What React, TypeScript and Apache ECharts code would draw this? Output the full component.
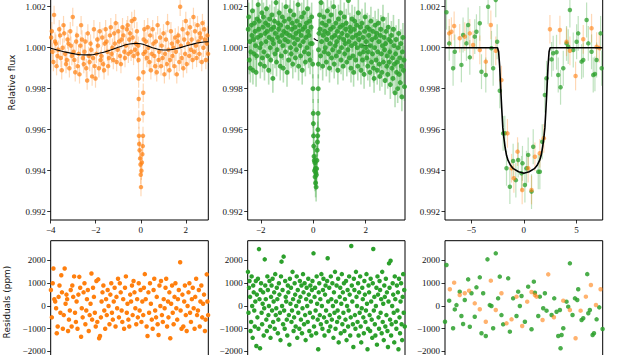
import React, { useEffect, useRef } from "react";
import * as echarts from "echarts";

// ---------- DATA ----------
// Left (orange) light curve: time (d) and relative-flux offset (ppm)
const leftFluxPpm: number[][] = [
  [-3.98,500],[-3.95,800],[-3.92,-200],[-3.88,-700],[-3.85,1600],[-3.81,300],[-3.77,200],[-3.74,-900],[-3.70,-400],[-3.66,-100],
  [-3.62,900],[-3.58,600],[-3.55,-500],[-3.51,-1100],[-3.47,0],[-3.43,1100],[-3.40,700],[-3.36,-300],[-3.32,-800],[-3.28,-600],
  [-3.25,400],[-3.21,200],[-3.17,-1000],[-3.13,800],[-3.10,100],[-3.06,-400],[-3.02,1500],[-2.98,-200],[-2.95,-600],[-2.91,-1200],
  [-2.87,300],[-2.83,600],[-2.80,-900],[-2.76,-300],[-2.72,-1300],[-2.68,100],[-2.65,1100],[-2.61,400],[-2.57,-500],[-2.53,-800],
  [-2.50,-200],[-2.46,300],[-2.42,-1000],[-2.38,-1600],[-2.35,700],[-2.31,-400],[-2.27,-700],[-2.23,200],[-2.20,-100],[-2.16,-1400],
  [-2.12,-500],[-2.08,900],[-2.05,-900],[-2.01,-1500],[-1.97,-300],[-1.93,400],[-1.90,100],[-1.86,-1000],[-1.82,800],[-1.78,-600],
  [-1.75,-400],[-1.71,500],[-1.67,-800],[-1.63,-1100],[-1.60,200],[-1.56,900],[-1.52,300],[-1.48,-200],[-1.45,-900],[-1.41,-500],
  [-1.37,600],[-1.33,1000],[-1.30,-300],[-1.26,0],[-1.22,-600],[-1.18,700],[-1.15,200],[-1.11,1200],[-1.07,-700],[-1.03,-100],
  [-1.00,800],[-0.96,300],[-0.92,-400],[-0.88,-800],[-0.85,400],[-0.81,1000],[-0.77,600],[-0.73,-200],[-0.70,-500],[-0.66,100],
  [-0.62,900],[-0.58,1100],[-0.55,-300],[-0.51,400],[-0.47,700],[-0.43,-200],[-0.40,1300],[-0.36,500],[-0.32,-400],[-0.28,1400],
  [-0.25,-100],[-0.21,200],[-0.17,800],[-0.14,-300],
  [-0.11,100],[-0.10,-600],[-0.095,-1500],[-0.09,-2500],[-0.085,-3500],[-0.08,-4300],[-0.07,-4700],[-0.05,-5000],[-0.03,-5400],
  [-0.01,-5700],[0.00,-6200],[0.01,-6800],[0.03,-6000],[0.05,-5600],[0.07,-5200],[0.09,-4800],[0.10,-4300],[0.105,-3200],
  [0.11,-2200],[0.115,-1200],[0.12,-300],[0.13,400],
  [0.16,900],[0.20,-200],[0.23,300],[0.27,-500],[0.31,1000],[0.34,0],[0.38,-700],[0.42,600],[0.45,-1100],[0.49,-300],
  [0.53,900],[0.56,200],[0.60,-400],[0.64,-900],[0.67,300],[0.71,-1200],[0.75,1100],[0.79,-600],[0.82,-200],[0.86,500],
  [0.90,-900],[0.93,100],[0.97,-500],[1.01,700],[1.05,-1300],[1.08,-300],[1.12,400],[1.16,-800],[1.19,1200],[1.23,-100],
  [1.27,-1100],[1.30,-600],[1.34,800],[1.38,200],[1.41,-400],[1.45,0],[1.49,-900],[1.53,500],[1.56,-200],[1.60,-1300],
  [1.64,300],[1.67,600],[1.71,-700],[1.75,2000],[1.78,100],[1.82,-500],[1.86,900],[1.89,-1000],[1.93,400],[1.97,-300],
  [2.00,1300],[2.04,-800],[2.08,700],[2.11,200],[2.15,-400],[2.19,1000],[2.23,-100],[2.26,400],[2.30,-600],[2.34,1500],
  [2.37,-200],[2.41,800],[2.45,100],[2.48,-500],[2.52,1100],[2.56,300],[2.60,-300],[2.63,700],[2.67,500],[2.71,-700],
  [2.74,1200],[2.78,0],[2.82,900],[2.85,400],[2.89,-600],[2.93,200],[2.96,600],[2.99,-300]
];

const leftModelPpm: number[][] = [
  [-4,-30],[-3.5,-170],[-3,-290],[-2.5,-350],[-2.2,-350],[-2,-310],[-1.5,-170],[-1,20],[-0.5,180],[-0.2,210],
  [0,190],[0.3,90],[0.6,-30],[1,-110],[1.3,-100],[1.6,-40],[2,80],[2.4,200],[2.8,280],[3,290]
];

// Middle (green) light curve
const midPreX: number[] = [
  -2.48,-2.46,-2.44,-2.42,-2.40,-2.38,-2.36,-2.34,-2.32,-2.30,-2.28,-2.26,-2.24,-2.22,-2.20,-2.18,-2.16,-2.14,-2.12,-2.10,
  -2.08,-2.06,-2.04,-2.02,-2.00,-1.98,-1.96,-1.94,-1.92,-1.90,-1.88,-1.86,-1.84,-1.82,-1.80,-1.78,-1.76,-1.74,-1.72,-1.70,
  -1.68,-1.66,-1.64,-1.62,-1.60,-1.58,-1.56,-1.54,-1.52,-1.50,-1.48,-1.46,-1.44,-1.42,-1.40,-1.38,-1.36,-1.34,-1.32,-1.30,
  -1.28,-1.26,-1.24,-1.22,-1.20,-1.18,-1.16,-1.14,-1.12,-1.10,-1.08,-1.06,-1.04,-1.02,-1.00,-0.98,-0.96,-0.94,-0.92,-0.90,
  -0.88,-0.86,-0.84,-0.82,-0.80,-0.78,-0.76,-0.74,-0.72,-0.70,-0.68,-0.66,-0.64,-0.62,-0.60,-0.58,-0.56,-0.54,-0.52,-0.50,
  -0.48,-0.46,-0.44,-0.42,-0.40,-0.38,-0.36,-0.34,-0.32,-0.30,-0.28,-0.26,-0.24,-0.22,-0.20,-0.18,-0.16,-0.14,-0.12,-0.10,
  -0.08,-0.06
];
const midPrePpm: number[] = [
  900,1500,-600,300,-1000,-200,1100,600,1800,-1100,400,-300,1200,800,100,-1200,-400,1400,500,2100,
  900,1300,0,-800,600,200,1700,-500,1000,1500,-200,-900,700,1200,300,1900,800,-400,1100,-1100,
  500,1400,0,-600,900,1600,400,-1500,200,1000,1300,-300,700,2200,-700,-100,500,1200,900,1700,
  300,-900,1100,-400,600,1500,100,-1000,800,1300,400,-200,2000,700,-1200,1000,300,-600,1400,600,
  1800,0,-300,900,1200,-800,500,1600,200,1000,-500,700,-100,1300,400,2100,-900,800,1100,100,
  -400,600,1500,-1100,900,300,1700,-200,1000,-700,500,1200,0,1900,800,-300,600,1300,-600,200,
  1000,1500
];
const midTransitPpm: number[][] = [
  [-0.04,200],[-0.02,-800],[-0.01,-2000],[0.00,-3200],[0.005,-3700],[0.01,-4300],[0.02,-4800],[0.03,-5300],[0.04,-5500],[0.05,-6000],
  [0.06,-5600],[0.07,-6300],[0.08,-5900],[0.09,-6600],[0.10,-6100],[0.11,-6800],[0.12,-6200],[0.13,-5900],[0.14,-5500],[0.15,-5000],
  [0.16,-4600],[0.17,-4300],[0.18,-4000],[0.185,-3200],[0.19,-2000],[0.195,-800],[0.20,-100],[0.22,700]
];
const midPostX: number[] = [
  0.24,0.26,0.28,0.30,0.32,0.34,0.36,0.38,0.40,0.42,0.44,0.46,0.48,0.50,0.52,0.54,0.56,0.58,0.60,0.62,
  0.64,0.66,0.68,0.70,0.72,0.74,0.76,0.78,0.80,0.82,0.84,0.86,0.88,0.90,0.92,0.94,0.96,0.98,1.00,1.02,
  1.04,1.06,1.08,1.10,1.12,1.14,1.16,1.18,1.20,1.22,1.24,1.26,1.28,1.30,1.32,1.34,1.36,1.38,1.40,1.42,
  1.44,1.46,1.48,1.50,1.52,1.54,1.56,1.58,1.60,1.62,1.64,1.66,1.68,1.70,1.72,1.74,1.76,1.78,1.80,1.82,
  1.84,1.86,1.88,1.90,1.92,1.94,1.96,1.98,2.00,2.02,2.04,2.06,2.08,2.10,2.12,2.14,2.16,2.18,2.20,2.22,
  2.24,2.26,2.28,2.30,2.32,2.34,2.36,2.38,2.40,2.42,2.44,2.46,2.48,2.50,2.52,2.54,2.56,2.58,2.60,2.62,
  2.64,2.66,2.68,2.70,2.72,2.74,2.76,2.78,2.80,2.82,2.84,2.86,2.88,2.90,2.92,2.94,2.96,2.98,3.00,3.02,
  3.04,3.06,3.08,3.10,3.12,3.14,3.16,3.18,3.20,3.22,3.24,3.26,3.28,3.30,3.32,3.34,3.36,3.38,3.40,3.42,
  3.44,3.46,3.48
];
const midPostPpm: number[] = [
  1600,900,-400,2200,300,1200,-900,600,1500,-200,800,0,1100,-700,400,1800,700,-300,1300,-1000,
  200,900,1600,-500,500,-100,1000,2000,-800,600,100,1200,-400,300,800,-1100,1400,-200,500,1000,
  1700,-600,0,700,1100,-900,400,1500,-300,200,900,1200,-700,600,-100,2300,300,-500,1000,800,
  -1000,100,1400,500,-400,-1200,900,1300,200,-600,600,1100,0,-900,1700,400,700,-300,1000,-1100,
  100,1200,-600,500,-200,-1300,800,1500,0,300,-500,1000,-900,-200,600,900,-1200,100,1300,-700,
  400,-300,800,-1000,-1500,0,1100,500,-600,700,-1100,-200,1200,300,-800,-1400,600,900,-300,-1200,
  100,1400,-700,500,-100,-1600,200,800,-900,-400,-1300,1000,400,-700,-200,-1800,300,600,-1000,-500,
  -1500,900,100,-800,-2200,-300,400,-1200,-700,-2000,0,700,-1300,-500,-1700,200,-900,-2400,-200,500,
  -1100,-600,-1900
];

// visible pieces of the (mostly hidden) model in the middle panel
const midModelPpm: number[][] = [[0.02,450],[0.1,380],[0.18,340]];
const midModelPpm2: number[][] = [[1.85,120],[2.2,80]];

// Right (phase-folded) panel
const rightGreenPpm: number[][] = [
  [-7.36,1730],[-7.1,210],[-6.73,-1000],[-6.57,-200],[-5.94,-840],[-5.78,620],[-5.46,210],[-5.30,1110],[-5.14,-470],[-4.67,540],
  [-4.51,780],[-4.19,1190],[-4.03,-1170],[-3.62,-1330],[-3.40,2000],[-3.08,-30],[-2.92,-1000],[-2.67,2330],[-2.54,290],[-2.29,-2100],
  [-1.97,-4180],[-1.81,-4170],[-1.65,-5880],[-1.33,-6780],[-1.02,-5530],[-0.76,-6460],[-0.54,-5480],[-0.22,-6130],[-0.13,-5640],[0.10,-6700],
  [0.25,-5880],[0.41,-5230],[0.73,-7020],[0.89,-4830],[1.37,-6050],[1.52,-6050],[1.75,-4590],[2.0,-2310],[2.16,-1490],[2.64,-570],
  [2.79,-270],[3.11,-220],[3.27,-1330],[3.49,-1930],[3.75,-1000],[4.06,210],[4.22,50],[4.38,1840],[4.70,-110],[5.02,290],
  [5.17,700],[5.49,-680],[5.65,-600],[5.97,1350],[6.13,210],[6.44,-200],[6.60,-1330],[6.76,-1280],[6.92,-600],[7.30,700],[7.40,-1000]
];
const rightOrangePpm: number[][] = [
  [-7.1,700],[-6.89,780],[-6.63,1060],[-6.1,460],[-5.62,540],[-5.14,700],[-4.83,130],[-4.19,-110],[-3.62,-680],[-3.14,1110],
  [-2.67,-150],[-2.13,-1580],[-1.56,-4180],[-1.17,-5880],[-0.95,-6370],[-0.6,-5070],[-0.16,-6940],[0.41,-5880],[0.73,-6940],[1.05,-5320],
  [1.52,-5150],[1.90,-4420],[2.48,900],[3.43,860],[4.06,290],[4.38,-150],[4.92,-1380],[5.65,410],[6.44,950],[6.92,50],[7.17,-20]
];
const rightModelPpm: number[][] = [
  [-7.5,0],[-2.5,0],[-2.4,-200],[-2.3,-900],[-2.2,-2000],[-2.1,-3000],[-2.0,-3900],[-1.9,-4400],[-1.8,-4800],[-1.65,-5250],
  [-1.5,-5500],[-1.25,-5750],[-1.0,-5900],[-0.5,-6050],[0,-6120],[0.5,-6050],[1.0,-5900],[1.25,-5750],[1.5,-5500],[1.65,-5250],
  [1.8,-4800],[1.9,-4400],[2.0,-3900],[2.1,-3000],[2.2,-2000],[2.3,-900],[2.4,-200],[2.5,0],[7.5,0]
];

// Residuals (ppm)
const leftResidX: number[] = [
  -3.99,-3.95,-3.91,-3.88,-3.84,-3.80,-3.76,-3.73,-3.69,-3.65,-3.61,-3.57,-3.53,-3.50,-3.46,-3.42,-3.38,-3.34,-3.30,-3.27,
  -3.23,-3.19,-3.15,-3.11,-3.07,-3.04,-3.00,-2.96,-2.92,-2.88,-2.85,-2.81,-2.77,-2.73,-2.69,-2.65,-2.62,-2.58,-2.54,-2.50,
  -2.46,-2.42,-2.39,-2.35,-2.31,-2.27,-2.23,-2.19,-2.16,-2.12,-2.08,-2.04,-2.00,-1.97,-1.93,-1.89,-1.85,-1.81,-1.77,-1.74,
  -1.70,-1.66,-1.62,-1.58,-1.54,-1.51,-1.47,-1.43,-1.39,-1.35,-1.31,-1.28,-1.24,-1.20,-1.16,-1.12,-1.08,-1.05,-1.01,-0.97,
  -0.93,-0.89,-0.85,-0.82,-0.78,-0.74,-0.70,-0.66,-0.62,-0.59,-0.55,-0.51,-0.47,-0.43,-0.39,-0.36,-0.32,-0.28,-0.24,-0.20,
  -0.16,-0.13,-0.09,-0.05,-0.01,0.03,0.07,0.11,0.14,0.18,0.22,0.26,0.30,0.34,0.37,0.41,0.45,0.49,0.53,0.57,
  0.60,0.64,0.68,0.71,0.75,0.79,0.83,0.87,0.90,0.94,0.98,1.02,1.06,1.10,1.13,1.17,1.21,1.23,1.27,1.31,
  1.35,1.39,1.42,1.46,1.50,1.54,1.58,1.62,1.65,1.69,1.75,1.77,1.81,1.85,1.89,1.93,1.96,2.00,2.04,2.08,
  2.12,2.16,2.19,2.23,2.27,2.31,2.35,2.39,2.42,2.46,2.50,2.54,2.58,2.62,2.65,2.69,2.73,2.77,2.81,2.85,
  2.88,2.93,2.96,2.99
];
const leftResidPpm: number[] = [
  700,-500,1000,1650,300,200,-100,-1200,-900,400,900,-300,1350,600,-1000,-400,1650,100,500,300,
  -1100,-600,-200,700,-900,900,400,1300,-300,-700,200,-1000,500,1280,800,-1350,-100,-500,600,1000,
  -800,-200,300,700,-1100,-400,100,1430,-600,800,400,-300,-900,1100,-700,1170,-1420,-1320,-500,200,
  600,900,-200,-1000,300,-400,700,0,-800,500,1000,-300,-600,200,800,-900,400,-100,1200,-500,
  1000,600,-200,-700,300,-1000,800,1300,-300,100,-600,-900,500,200,900,-400,1100,600,-100,-800,
  300,-500,1000,-200,700,-700,200,-400,800,1400,300,-900,-1320,600,-300,1000,100,-600,-1000,700,
  1200,-200,-500,400,-800,-1275,900,0,1100,-400,-700,300,-100,800,1200,-900,200,-500,600,-1420,
  100,900,-300,-800,400,1000,-100,-600,300,700,1920,-200,-1000,500,-900,200,900,-400,-1100,0,
  600,1000,-300,-700,300,800,-100,-1000,400,1200,-400,-200,700,-900,200,900,-500,100,500,-1100,
  -600,1390,200,-400
];

const midResidX: number[] = [
  -2.49,-2.47,-2.45,-2.43,-2.41,-2.39,-2.37,-2.35,-2.33,-2.31,-2.29,-2.27,-2.25,-2.23,-2.21,-2.19,-2.17,-2.15,-2.13,-2.11,
  -2.09,-2.07,-2.05,-2.03,-2.01,-1.99,-1.97,-1.95,-1.93,-1.91,-1.89,-1.87,-1.85,-1.83,-1.81,-1.79,-1.77,-1.75,-1.73,-1.71,
  -1.69,-1.67,-1.65,-1.63,-1.61,-1.59,-1.57,-1.55,-1.53,-1.51,-1.49,-1.47,-1.45,-1.43,-1.41,-1.39,-1.37,-1.35,-1.33,-1.31,
  -1.29,-1.27,-1.25,-1.23,-1.21,-1.19,-1.17,-1.15,-1.13,-1.11,-1.09,-1.07,-1.05,-1.03,-1.01,-0.99,-0.97,-0.95,-0.93,-0.91,
  -0.89,-0.87,-0.85,-0.83,-0.81,-0.79,-0.77,-0.75,-0.73,-0.71,-0.69,-0.67,-0.65,-0.63,-0.61,-0.59,-0.57,-0.55,-0.53,-0.51,
  -0.49,-0.47,-0.45,-0.43,-0.41,-0.39,-0.37,-0.35,-0.33,-0.31,-0.29,-0.27,-0.25,-0.23,-0.21,-0.19,-0.17,-0.15,-0.13,-0.11,
  -0.09,-0.07,-0.05,-0.03,-0.01,0.01,0.03,0.05,0.07,0.09,0.11,0.13,0.15,0.17,0.19,0.21,0.23,0.25,0.27,0.29,
  0.31,0.33,0.35,0.37,0.39,0.41,0.43,0.45,0.47,0.49,0.51,0.53,0.55,0.57,0.59,0.61,0.63,0.65,0.67,0.69,
  0.71,0.73,0.75,0.77,0.79,0.81,0.83,0.85,0.87,0.89,0.91,0.93,0.95,0.97,0.99,1.01,1.03,1.05,1.07,1.09,
  1.11,1.13,1.15,1.17,1.19,1.21,1.23,1.25,1.27,1.29,1.31,1.33,1.35,1.37,1.39,1.41,1.43,1.45,1.47,1.49,
  1.51,1.53,1.55,1.57,1.59,1.61,1.63,1.65,1.67,1.69,1.71,1.73,1.75,1.77,1.79,1.81,1.83,1.85,1.87,1.89,
  1.91,1.93,1.95,1.97,1.99,2.01,2.03,2.05,2.07,2.09,2.11,2.13,2.15,2.17,2.19,2.21,2.23,2.25,2.27,2.29,
  2.31,2.33,2.35,2.37,2.39,2.41,2.43,2.45,2.47,2.49,2.51,2.53,2.55,2.57,2.59,2.61,2.63,2.65,2.67,2.69,
  2.71,2.73,2.75,2.77,2.79,2.81,2.83,2.85,2.87,2.89,2.91,2.93,2.95,2.97,2.99,3.01,3.03,3.05,3.07,3.09,
  3.11,3.13,3.15,3.17,3.19,3.21,3.23,3.25,3.27,3.29,3.31,3.33,3.35,3.37,3.39,3.41,3.43,3.45,3.47,3.49
];
const midResidPpm: number[] = [
  1500,-300,800,1100,400,-1100,-700,1300,0,-1400,900,600,-200,-900,200,1100,-1760,500,-500,1200,
  -1000,2500,300,-1860,700,1000,-300,-800,100,600,-1300,-100,2050,900,300,-600,-1100,1300,700,-400,
  0,1100,-900,-1400,400,900,-200,1200,-700,200,600,-1000,1400,-400,-100,800,300,-1200,-600,1000,
  500,-300,-1500,1300,1950,0,700,-800,2170,-200,-1000,1100,400,200,-600,-1300,900,600,-400,-1700,
  1200,100,800,-700,-200,1500,300,-1100,-500,1000,500,-900,0,1300,-1400,700,-300,200,-1000,1100,
  400,-600,900,-1200,-100,1400,600,-800,1000,-400,-1500,300,800,0,-700,1200,500,-1100,-300,900,
  200,-1300,700,1100,-500,2315,-900,400,800,-200,-1200,1300,100,-600,-1900,600,1000,-400,300,-800,
  1400,0,-1000,700,1200,-500,-1300,500,900,-200,-700,1100,2100,200,-1100,800,-400,-900,1300,300,
  -600,1000,0,-1400,600,-300,1500,-1000,200,900,-700,-200,1200,-1600,-500,400,800,-1200,100,1400,
  -800,600,-300,1000,-1100,300,-600,1100,-1500,0,700,-900,-200,1300,500,-1300,-500,2640,900,200,
  -800,-1800,1200,700,-400,-1000,1500,400,0,-700,1000,-1300,600,-300,1300,-900,-1600,-100,800,300,
  -500,-1200,1100,500,-700,-200,1400,100,-1900,-1000,900,600,-400,-1100,1200,200,-600,-1400,1000,2505,
  -200,400,-800,-1300,0,800,-1700,1300,500,-500,-1000,1100,700,-300,300,-1200,1500,-700,100,-1500,
  900,400,-900,1200,-400,600,-1100,-1800,200,1875,800,-600,1990,-1300,-800,0,1000,500,-300,-1600,
  1300,300,-700,-1000,900,-200,600,-1900,1200,-500,-1200,200,1000,-800,-1500,400,1400,-300,700,-900
];

const rightGreenResid: number[][] = [
  [-7.5,-690],[-7.36,1800],[-7.1,234],[-6.73,-980],[-6.57,-150],[-6.41,40],[-6.1,630],[-5.94,-440],[-5.78,-790],[-5.62,264],
  [-5.30,1170],[-5.14,-910],[-4.98,557],[-4.67,-470],[-4.51,820],[-4.19,1260],[-4.03,-1200],[-3.87,557],[-3.62,-1320],[-3.46,2050],
  [-3.24,40],[-3.08,0],[-2.92,-980],[-2.67,2315],[-2.45,337],[-2.29,1290],[-2.13,-400],[-1.97,-806],[-1.49,1216],[-1.33,-1128],
  [-1.02,337],[-0.70,-440],[-0.54,630],[-0.38,0],[-0.22,440],[0.10,-690],[0.41,850],[0.73,-1025],[0.95,1070],[1.05,586],
  [1.37,-440],[1.52,410],[1.84,-100],[2.0,557],[2.16,-205],[2.64,-396],[2.89,337],[3.11,-250],[3.27,-1320],[3.43,-176],
  [3.59,-1275],[3.49,-1860],[3.75,-980],[4.06,190],[4.22,-30],[4.38,1875],[4.63,-396],[4.86,337],[5.08,264],[5.17,733],
  [5.49,-615],[5.65,-542],[6.03,1400],[6.13,-322],[6.28,-176],[6.54,-1275],[6.67,-1200],[6.92,-586],[7.17,-60],[7.49,-1010]
];
const rightOrangeResid: number[][] = [
  [-7.04,733],[-6.63,1026],[-6.1,483],[-5.62,557],[-5.21,674],[-4.67,117],[-4.19,-146],[-3.62,-690],[-3.14,1113],[-2.67,-176],
  [-2.13,557],[-1.65,-762],[-1.17,-586],[-0.70,410],[-0.16,-880],[0.32,190],[0.73,615],[1.05,483],[1.21,410],[1.78,-615],
  [2.32,1390],[2.86,-498],[3.75,234],[4.38,-176],[4.92,-1420],[5.4,-205],[5.9,410],[6.38,923],[6.86,44],[7.3,733]
];

const xTicksLeft = [-4, -2, 0, 2];
const xTicksMid = [-2, 0, 2];
const xTicksRight = [-5, 0, 5];
const fluxTicks = [0.992, 0.994, 0.996, 0.998, 1.0, 1.002];
const residTicks = [-2000, -1000, 0, 1000, 2000];

// error bar half-lengths (ppm)
const errLeft = 450;
const errMid = 700;
const errRightGreen = 850;
const errRightOrange = 700;

const ORANGE = "#ff7f0e";
const GREEN = "#2ca02c";
const SERIF = "'Liberation Serif', 'DejaVu Serif', serif";
const SANS = "'DejaVu Sans', sans-serif";

const zip = (xs: number[], ys: number[]) => xs.map((x, i) => [x, ys[i]]);
const toFlux = (rows: number[][]) => rows.map((r) => [r[0], 1 + r[1] / 1e6]);
const minus = (v: number) => (v < 0 ? "\u2212" + String(Math.abs(v)) : String(v));

export default function App() {
  const ref = useRef<HTMLDivElement>(null);
  useEffect(() => {
    if (!ref.current) return;
    const chart = echarts.init(ref.current, undefined, { renderer: "svg" });

    const midFluxPpm = [...zip(midPreX, midPrePpm), ...midTransitPpm, ...zip(midPostX, midPostPpm)];
    const leftResid = zip(leftResidX, leftResidPpm);
    const midResid = zip(midResidX, midResidPpm);

    const topTop = -55;
    const topH = 275;
    const botTop = 240.7;
    const botH = 122.6;
    const cols = [
      { left: 50.7, width: 157.6 },
      { left: 247.7, width: 157.3 },
      { left: 445, width: 157.7 },
    ];
    const grids: any[] = [];
    cols.forEach((c) =>
      grids.push({ left: c.left, width: c.width, top: topTop, height: topH, show: true, borderColor: "#000", borderWidth: 1, backgroundColor: "transparent", outerBoundsMode: "none", containLabel: false })
    );
    cols.forEach((c) =>
      grids.push({ left: c.left, width: c.width, top: botTop, height: botH, show: true, borderColor: "#000", borderWidth: 1, backgroundColor: "transparent", outerBoundsMode: "none", containLabel: false })
    );

    const tickFont = { fontFamily: SERIF, fontSize: 9, color: "#111" };
    const xr = [
      [-4, 3, xTicksLeft],
      [-2.5, 3.5, xTicksMid],
      [-7.5, 7.5, xTicksRight],
    ] as any[];

    const xAxes: any[] = [];
    xr.forEach((r, i) =>
      xAxes.push({
        type: "value", gridIndex: i, min: r[0], max: r[1], position: "bottom",
        axisLine: { show: false, onZero: false },
        axisTick: { show: true, inside: false, length: 3.5, lineStyle: { color: "#000", width: 0.8 }, customValues: r[2] },
        axisLabel: { show: true, margin: 5, ...tickFont, customValues: r[2], formatter: (v: number) => minus(v) },
        splitLine: { show: false },
      })
    );
    xr.forEach((r, i) =>
      xAxes.push({ type: "value", gridIndex: i + 3, min: r[0], max: r[1], show: false, axisLine: { onZero: false }, splitLine: { show: false } })
    );

    const yAxes: any[] = [];
    for (let i = 0; i < 3; i++) {
      yAxes.push({
        type: "value", gridIndex: i, min: 0.991595, max: 1.00501, position: "left",
        name: i === 0 ? "Relative flux" : "", nameLocation: "middle", nameGap: 34, nameRotate: 90,
        nameTextStyle: { fontFamily: SANS, fontSize: 9, color: "#111" },
        axisLine: { show: false, onZero: false },
        axisTick: { show: true, length: 3.5, lineStyle: { color: "#000", width: 0.8 }, customValues: fluxTicks },
        axisLabel: { margin: 5, ...tickFont, customValues: fluxTicks, formatter: (v: number) => v.toFixed(3) },
        splitLine: { show: false },
      });
    }
    for (let i = 0; i < 3; i++) {
      yAxes.push({
        type: "value", gridIndex: i + 3, min: -2519, max: 2870, position: "left",
        name: i === 0 ? "Residuals (ppm)" : "", nameLocation: "middle", nameGap: 39, nameRotate: 90,
        nameTextStyle: { fontFamily: SANS, fontSize: 9, color: "#111" },
        axisLine: { show: false, onZero: false },
        axisTick: { show: true, length: 3.5, lineStyle: { color: "#000", width: 0.8 }, customValues: residTicks },
        axisLabel: { margin: 5, ...tickFont, customValues: residTicks, formatter: (v: number) => minus(v) },
        splitLine: { show: false },
      });
    }

    const errSeries = (idx: number, rows: number[][], errPpm: number, color: string, opacity: number, width: number) => ({
      type: "custom", xAxisIndex: idx, yAxisIndex: idx, clip: true, silent: true, z: 1,
      data: toFlux(rows),
      renderItem: (params: any, api: any) => {
        const x = api.value(0);
        const y = api.value(1);
        const e = errPpm / 1e6;
        const p1 = api.coord([x, y + e]);
        const p2 = api.coord([x, y - e]);
        return { type: "line", shape: { x1: p1[0], y1: p1[1], x2: p2[0], y2: p2[1] }, style: { stroke: color, lineWidth: width, opacity } };
      },
    });
    const scat = (idx: number, data: number[][], color: string, size: number, opacity: number, z = 2) => ({
      type: "scatter", xAxisIndex: idx, yAxisIndex: idx, data, symbolSize: size, clip: true, z,
      itemStyle: { color, opacity }, silent: true,
    });
    const model = (idx: number, rows: number[][], width: number, z: number, smooth: boolean) => ({
      type: "line", xAxisIndex: idx, yAxisIndex: idx, data: toFlux(rows), showSymbol: false, symbol: "none",
      smooth, clip: true, z, lineStyle: { color: "#000", width }, silent: true,
    });

    const series: any[] = [
      errSeries(0, leftFluxPpm, errLeft, ORANGE, 0.3, 1.2),
      scat(0, toFlux(leftFluxPpm), ORANGE, 4.5, 0.7),
      model(0, leftModelPpm, 1.1, 5, true),

      errSeries(1, midFluxPpm, errMid, GREEN, 0.35, 1.6),
      scat(1, toFlux(midFluxPpm), GREEN, 5, 0.85),
      model(1, midModelPpm, 1.1, 5, false),
      model(1, midModelPpm2, 0.8, 0, false),

      errSeries(2, rightGreenPpm, errRightGreen, GREEN, 0.3, 1.2),
      errSeries(2, rightOrangePpm, errRightOrange, ORANGE, 0.3, 1.2),
      scat(2, toFlux(rightGreenPpm), GREEN, 4.5, 0.75),
      scat(2, toFlux(rightOrangePpm), ORANGE, 4.5, 0.6),
      model(2, rightModelPpm, 1.6, 5, false),

      scat(3, leftResid, ORANGE, 4.5, 1),
      scat(4, midResid, GREEN, 4.5, 1),
      scat(5, rightGreenResid, GREEN, 4.5, 0.85),
      scat(5, rightOrangeResid, ORANGE, 4.5, 0.6),
    ];

    chart.setOption({
      animation: false,
      backgroundColor: "#fff",
      textStyle: { fontFamily: SERIF },
      grid: grids,
      xAxis: xAxes,
      yAxis: yAxes,
      series,
    });
    return () => chart.dispose();
  }, []);

  return <div ref={ref} style={{ position: "absolute", left: 0, top: 0, width: 630, height: 355 }} />;
}
